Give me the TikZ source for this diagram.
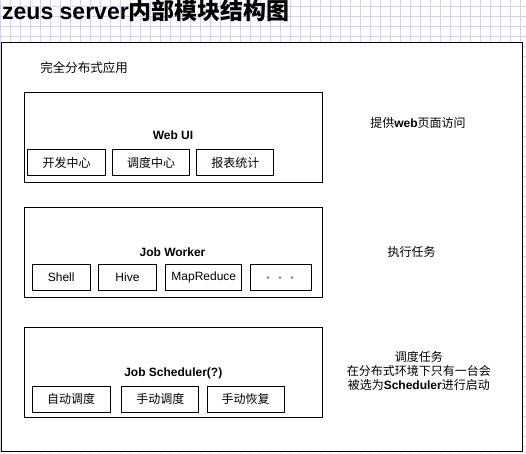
\documentclass[tikz,border=0pt]{standalone}
\usepackage{fontspec}
\setmainfont{Liberation Sans}
\newfontfamily\cjk{Noto Sans CJK SC}
\definecolor{gridc}{RGB}{208,208,255}
\definecolor{dotc}{RGB}{140,140,140}
\tikzset{
  bigbox/.style={draw=black, line width=1pt, minimum width=298pt, minimum height=90pt, inner sep=0pt},
  subbox/.style={draw=black, line width=1pt, inner sep=0pt, font=\fontsize{12pt}{14pt}\selectfont},
  boxlabel/.style={inner sep=0pt, font=\fontsize{12pt}{14pt}\selectfont\bfseries},
  note/.style={inner sep=0pt, align=center, font=\fontsize{12pt}{14pt}\selectfont},
}
\begin{document}
\begin{tikzpicture}[x=1pt, y=-1pt]
\useasboundingbox (0,0) rectangle (526,453);
% grid background
\foreach \i in {0,...,52} {
  \draw[gridc, line width=1pt] (10*\i+0.5,0) -- (10*\i+0.5,453);
}
\foreach \j in {0,...,44} {
  \draw[gridc, line width=1pt] (0,10*\j+6) -- (526,10*\j+6);
}
% title
\node[anchor=base west, inner sep=0pt, font=\fontsize{23pt}{27pt}\selectfont\bfseries] (title) at (2,19.5) {zeus server{\cjk 内部模块结构图}};
% outer frame
\node[draw=black, fill=white, line width=1pt, minimum width=521pt, minimum height=409pt, inner sep=0pt, anchor=north west] (frame) at (0.5,41.5) {};
\node[note, font=\fontsize{12.5pt}{15pt}\selectfont] (app) at (84,68) {\cjk 完全分布式应用};
% Web UI
\node[bigbox] (webui) at (173,137) {};
\node[boxlabel] (webuilbl) at (173,135) {Web UI};
\node[subbox, minimum width=78pt, minimum height=26.4pt] (dev) at (66.7,162.5) {\cjk 开发中心};
\node[subbox, minimum width=76.6pt, minimum height=26.4pt] (sched) at (151,162.5) {\cjk 调度中心};
\node[subbox, minimum width=77.3pt, minimum height=26.4pt] (report) at (235.3,162.5) {\cjk 报表统计};
\node[note] (webnote) at (418,123) {{\cjk 提供}\textbf{web}{\cjk 页面访问}};
% Job Worker
\node[bigbox] (worker) at (173,252) {};
\node[boxlabel] (workerlbl) at (172.5,252.3) {Job Worker};
\node[subbox, minimum width=57.7pt, minimum height=25.7pt] (shell) at (61.2,277.2) {Shell};
\node[subbox, minimum width=58.4pt, minimum height=25.7pt] (hive) at (127.5,277.2) {Hive};
\node[subbox, minimum width=75.7pt, minimum height=25.7pt] (mr) at (203.8,277.2) {MapReduce};
\node[subbox, minimum width=61pt, minimum height=25.7pt] (more) at (281.2,277.2) {};
\foreach \k in {268,280,292} {
  \fill[dotc] (\k,277.7) circle (1.5pt);
}
\node[note] (workernote) at (411.7,251.7) {\cjk 执行任务};
% Job Scheduler
\node[bigbox] (scheduler) at (173,372) {};
\node[boxlabel] (schedlbl) at (173.3,373.3) {Job Scheduler(?)};
\node[subbox, minimum width=77.7pt, minimum height=26.3pt] (auto) at (71.2,399.2) {\cjk 自动调度};
\node[subbox, minimum width=77.3pt, minimum height=26.3pt] (manual) at (160.3,399.2) {\cjk 手动调度};
\node[subbox, minimum width=76.7pt, minimum height=26.3pt] (recover) at (245.7,399.2) {\cjk 手动恢复};
\node[note] (schednote) at (418.8,370.5) {{\cjk 调度任务}\\{\cjk 在分布式环境下只有一台会}\\{\cjk 被选为}\textbf{Scheduler}{\cjk 进行启动}};
\end{tikzpicture}
\end{document}
